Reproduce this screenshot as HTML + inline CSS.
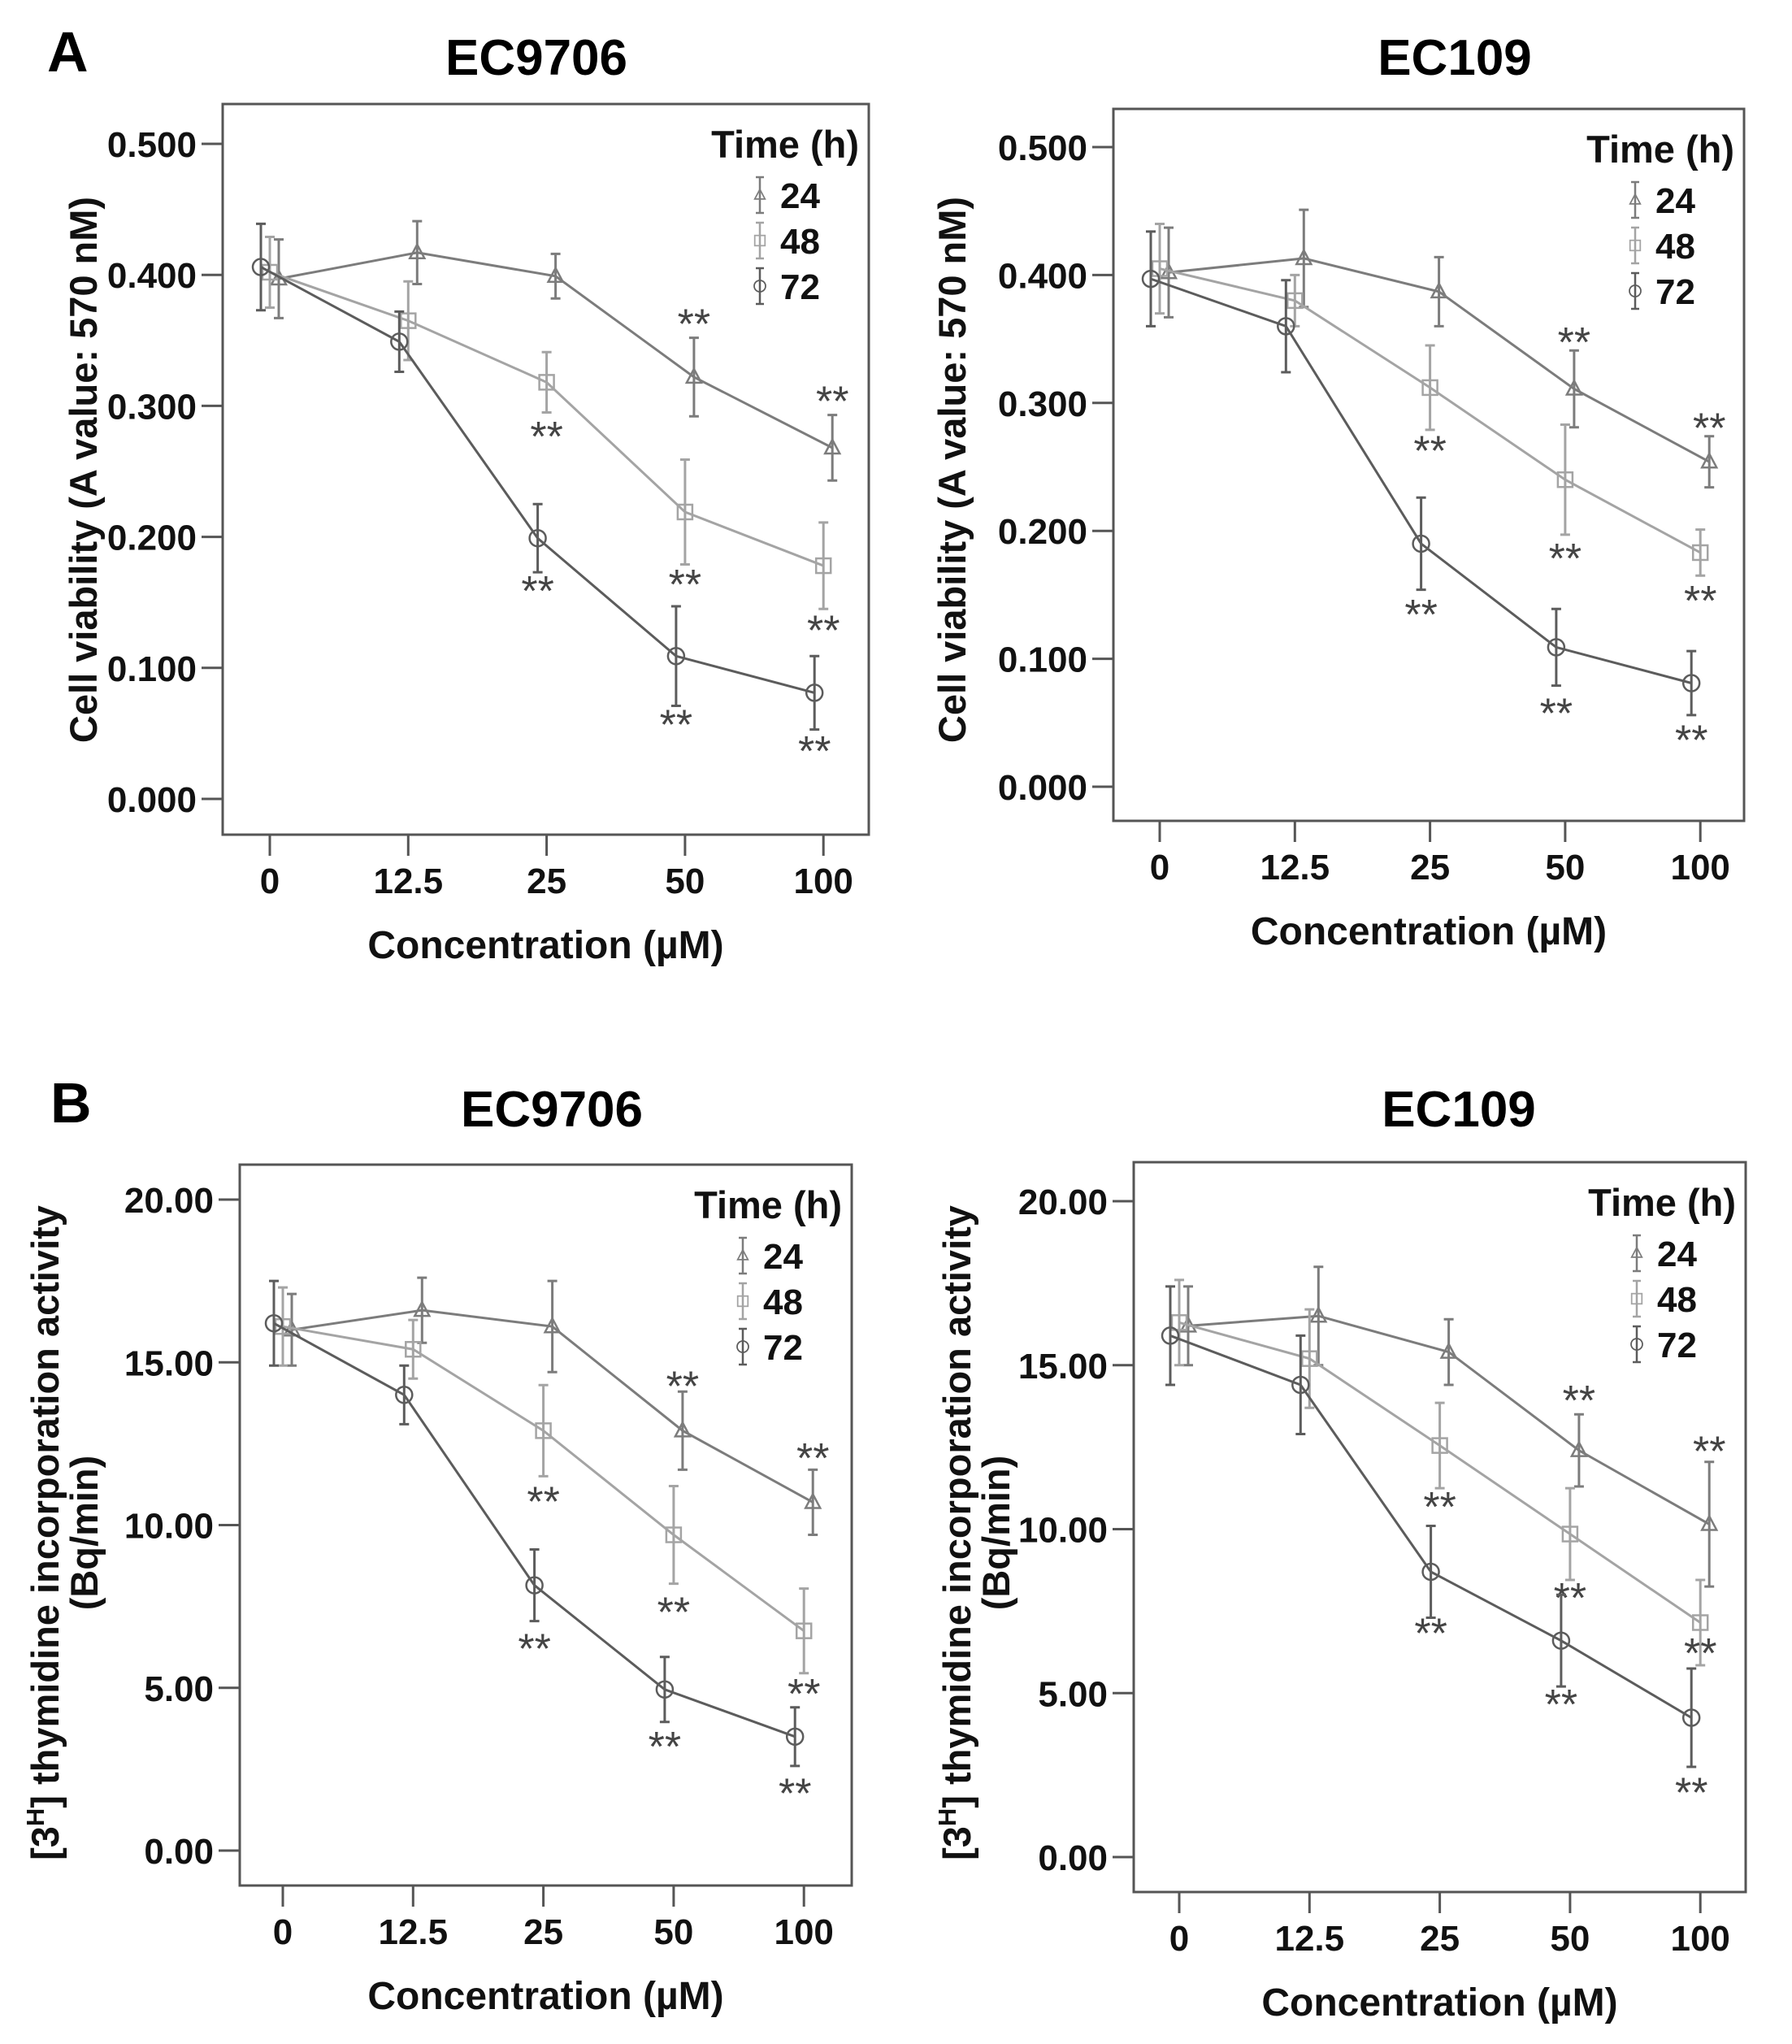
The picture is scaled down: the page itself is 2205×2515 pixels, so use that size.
<!DOCTYPE html>
<html><head><meta charset="utf-8">
<style>
html,body{margin:0;padding:0;background:#fff;}
svg{display:block;font-family:"Liberation Sans",Arial,sans-serif;}
</style></head>
<body>
<svg id="fig" width="2205" height="2515" viewBox="0 0 2205 2515" xmlns="http://www.w3.org/2000/svg">
<text x="58" y="88" font-size="70" font-weight="bold">A</text>
<text x="62" y="1381" font-size="70" font-weight="bold">B</text>
</svg>
<script>
// categories
const categories = ["0","12.5","25","50","100"];
const seriesNames = ["24","48","72"];
// Panel A-left (EC9706, viability)
const aLeft24 = [0.397,0.417,0.399,0.322,0.268];
const aLeft48 = [0.402,0.365,0.318,0.219,0.178];
const aLeft72 = [0.406,0.349,0.199,0.109,0.081];
const aLeftErr24 = [0.030,0.024,0.017,0.030,0.025];
const aLeftErr48 = [0.027,0.030,0.023,0.040,0.033];
const aLeftErr72 = [0.033,0.023,0.026,0.038,0.028];
const aLeftStars24 = [null,null,null,0.367,0.308];
const aLeftStars48 = [null,null,0.281,0.168,0.133];
const aLeftStars72 = [null,null,0.163,0.061,0.041];
// Panel A-right (EC109, viability)
const aRight24 = [0.402,0.413,0.387,0.311,0.254];
const aRight48 = [0.405,0.380,0.312,0.240,0.183];
const aRight72 = [0.397,0.360,0.190,0.109,0.081];
const aRightErr24 = [0.035,0.038,0.027,0.030,0.020];
const aRightErr48 = [0.035,0.020,0.033,0.043,0.018];
const aRightErr72 = [0.037,0.036,0.036,0.030,0.025];
const aRightStars24 = [null,null,null,0.352,0.285];
const aRightStars48 = [null,null,0.267,0.183,0.150];
const aRightStars72 = [null,null,0.139,0.062,0.041];
// Panel B-left (EC9706, thymidine)
const bLeft24 = [16.0,16.6,16.1,12.9,10.7];
const bLeft48 = [16.1,15.4,12.9,9.7,6.75];
const bLeft72 = [16.2,14.0,8.15,4.95,3.5];
const bLeftErr24 = [1.1,1.0,1.4,1.2,1.0];
const bLeftErr48 = [1.2,0.9,1.4,1.5,1.3];
const bLeftErr72 = [1.3,0.9,1.1,1.0,0.9];
const bLeftStars24 = [null,null,null,14.45,12.24];
const bLeftStars48 = [null,null,10.9,7.5,5.0];
const bLeftStars72 = [null,null,6.38,3.37,1.94];
// Panel B-right (EC109, thymidine)
const bRight24 = [16.2,16.5,15.4,12.4,10.15];
const bRight48 = [16.3,15.2,12.55,9.85,7.15];
const bRight72 = [15.9,14.4,8.7,6.6,4.25];
const bRightErr24 = [1.2,1.5,1.0,1.1,1.9];
const bRightErr48 = [1.3,1.5,1.3,1.4,1.3];
const bRightErr72 = [1.5,1.5,1.4,1.4,1.5];
const bRightStars24 = [null,null,null,14.1,12.55];
const bRightStars48 = [null,null,10.85,8.08,6.4];
const bRightStars72 = [null,null,7.0,4.83,2.14];
// tick labels
const aTicks = [0,0.1,0.2,0.3,0.4,0.5];
const aTickLabels = ["0.000","0.100","0.200","0.300","0.400","0.500"];
const bTicks = [0,5,10,15,20];
const bTickLabels = ["0.00","5.00","10.00","15.00","20.00"];

const NS="http://www.w3.org/2000/svg";
const svg=document.getElementById('fig');
const colors={"24":"#7c7c7c","48":"#a4a4a4","72":"#5c5c5c"};
const dodge={"24":11,"48":0,"72":-11};

function mk(tag,attrs,parent){const e=document.createElementNS(NS,tag);for(const k in attrs)e.setAttribute(k,attrs[k]);(parent||svg).appendChild(e);return e;}

function marker(g,type,x,y,c){
  let m;
  if(type==="24"){m=mk('path',{d:`M${x},${y-10} L${x+9},${y+7} L${x-9},${y+7} Z`,fill:'none',stroke:c,'stroke-width':2.5},g);}
  else if(type==="48"){m=mk('rect',{x:x-9,y:y-9,width:18,height:18,fill:'none',stroke:c,'stroke-width':2.5},g);}
  else {m=mk('circle',{cx:x,cy:y,r:10,fill:'none',stroke:c,'stroke-width':2.5},g);}
  return m;
}

function panel(cfg){
  const g=mk('g',{});
  
  
  const fr=cfg.frame;
  const yScale=v=>cfg.y0+(cfg.yTop-cfg.y0)*(v-cfg.tickMin)/(cfg.tickMax-cfg.tickMin);
  const xScale=i=>cfg.xs[0]+(cfg.xs[1]-cfg.xs[0])*i;
  const f=mk('rect',{x:fr[0],y:fr[1],width:fr[2]-fr[0],height:fr[3]-fr[1],fill:'none',stroke:'#555','stroke-width':3},g);
  
  
  const t=mk('text',{x:cfg.title[0],y:cfg.title[1],'font-size':62,'font-weight':'bold','text-anchor':'middle'},g);
  t.textContent=cfg.titleText;
  
  
  cfg.ticks.forEach((v,i)=>{
    const y=yScale(v);
    mk('line',{x1:fr[0]-26,x2:fr[0],y1:y,y2:y,stroke:'#555','stroke-width':3},g);
    const lb=mk('text',{x:fr[0]-32,y:y+16,'font-size':44,'font-weight':'bold','text-anchor':'end',fill:'#111'},g);
    lb.textContent=cfg.tickLabels[i];
    
    
  });
  categories.forEach((c,i)=>{
    const x=xScale(i);
    mk('line',{x1:x,x2:x,y1:fr[3],y2:fr[3]+26,stroke:'#555','stroke-width':3},g);
    const lb=mk('text',{x:x,y:fr[3]+72,'font-size':44,'font-weight':'bold','text-anchor':'middle',fill:'#111'},g);
    lb.textContent=c;
    
    
  });
  const xt=mk('text',{x:(fr[0]+fr[2])/2,y:fr[3]+152,'font-size':48,'font-weight':'bold','text-anchor':'middle',fill:'#111'},g);
  xt.textContent="Concentration (\u00b5M)";
  
  
  cfg.ylab(g);
  // series
  seriesNames.forEach((s,si)=>{
    const vals=cfg.vals[si],errs=cfg.errs[si],stars=cfg.stars[si],c=colors[s];
    const sg=mk('g',{},g);
    
    
    const pts=vals.map((v,i)=>[xScale(i)+dodge[s],yScale(v)]);
    const pl=mk('polyline',{points:pts.map(p=>p.join(',')).join(' '),fill:'none',stroke:c,'stroke-width':3},sg);
    
    
    vals.forEach((v,i)=>{
      const x=pts[i][0],y1=yScale(v+errs[i]),y2=yScale(v-errs[i]);
      const eb=mk('path',{d:`M${x},${y1} V${y2} M${x-6},${y1} H${x+6} M${x-6},${y2} H${x+6}`,stroke:c,'stroke-width':3,fill:'none'},sg);
      
      
      const m=marker(sg,s,x,pts[i][1],c);
      
      
      if(stars[i]!==null){
        const st=mk('text',{x:x,y:yScale(stars[i])+25,'font-size':52,'text-anchor':'middle',fill:'#444'},sg);
        st.textContent="**";
        
        
      }
    });
  });
  // legend
  const lg=mk('g',{},g);
  
  
  const lt=mk('text',{x:fr[2]-12,y:fr[1]+66,'font-size':47,'font-weight':'bold','text-anchor':'end',fill:'#111'},lg);
  lt.textContent="Time (h)";
  
  
  seriesNames.forEach((s,i)=>{
    const y=fr[1]+112+56*i, x=fr[2]-134, c=colors[s];
    mk('path',{d:`M${x},${y-22} V${y+22} M${x-5},${y-22} H${x+5} M${x-5},${y+22} H${x+5}`,stroke:c,'stroke-width':2.5,fill:'none'},lg);
    const m=marker(lg,s,x,y,c);
    m.setAttribute('transform',`translate(${x},${y}) scale(0.7) translate(${-x},${-y})`);
    const tx=mk('text',{x:x+25,y:y+16,'font-size':44,'font-weight':'bold',fill:'#111'},lg);
    tx.textContent=s;
    
    
  });
}

function ylabA(cx,cy){return g=>{
  const t=mk('text',{x:cx,y:cy,'font-size':47,'font-weight':'bold','text-anchor':'middle',fill:'#111',transform:`rotate(-90 ${cx} ${cy})`},g);
  t.textContent="Cell viability (A value: 570 nM)";
  
  
};}
function ylabB(cx1,cx2,cy){return g=>{
  const t=mk('text',{x:cx1,y:cy,'font-size':47,'font-weight':'bold','text-anchor':'middle',fill:'#111',transform:`rotate(-90 ${cx1} ${cy})`},g);
  t.innerHTML='[3<tspan font-size="31" dy="-18">H</tspan><tspan dy="18">] thymidine incorporation activity</tspan>';
  
  
  const t2=mk('text',{x:cx2,y:cy,'font-size':47,'font-weight':'bold','text-anchor':'middle',fill:'#111',transform:`rotate(-90 ${cx2} ${cy})`},g);
  t2.textContent="(Bq/min)";
  
  
};}

panel({name:'chart-a-ec9706',frame:[274,128,1069,1027],title:[660,92],titleText:'EC9706',
  y0:983,yTop:177,tickMin:0,tickMax:0.5,ticks:aTicks,tickLabels:aTickLabels,xs:[332,502.3],
  vals:[aLeft24,aLeft48,aLeft72],errs:[aLeftErr24,aLeftErr48,aLeftErr72],stars:[aLeftStars24,aLeftStars48,aLeftStars72],
  ylab:ylabA(119,578)});
panel({name:'chart-a-ec109',frame:[1370,134,2146,1010],title:[1790,92],titleText:'EC109',
  y0:968,yTop:181,tickMin:0,tickMax:0.5,ticks:aTicks,tickLabels:aTickLabels,xs:[1427,1593.3],
  vals:[aRight24,aRight48,aRight72],errs:[aRightErr24,aRightErr48,aRightErr72],stars:[aRightStars24,aRightStars48,aRightStars72],
  ylab:ylabA(1188,578)});
panel({name:'chart-b-ec9706',frame:[295,1433,1048,2320],title:[679,1386],titleText:'EC9706',
  y0:2277,yTop:1476,tickMin:0,tickMax:20,ticks:bTicks,tickLabels:bTickLabels,xs:[348,508.3],
  vals:[bLeft24,bLeft48,bLeft72],errs:[bLeftErr24,bLeftErr48,bLeftErr72],stars:[bLeftStars24,bLeftStars48,bLeftStars72],
  ylab:ylabB(72,120,1886)});
panel({name:'chart-b-ec109',frame:[1395,1430,2148,2328],title:[1795,1386],titleText:'EC109',
  y0:2285,yTop:1478,tickMin:0,tickMax:20,ticks:bTicks,tickLabels:bTickLabels,xs:[1451,1611.3],
  vals:[bRight24,bRight48,bRight72],errs:[bRightErr24,bRightErr48,bRightErr72],stars:[bRightStars24,bRightStars48,bRightStars72],
  ylab:ylabB(1194,1242,1886)});
</script>
</body></html>
